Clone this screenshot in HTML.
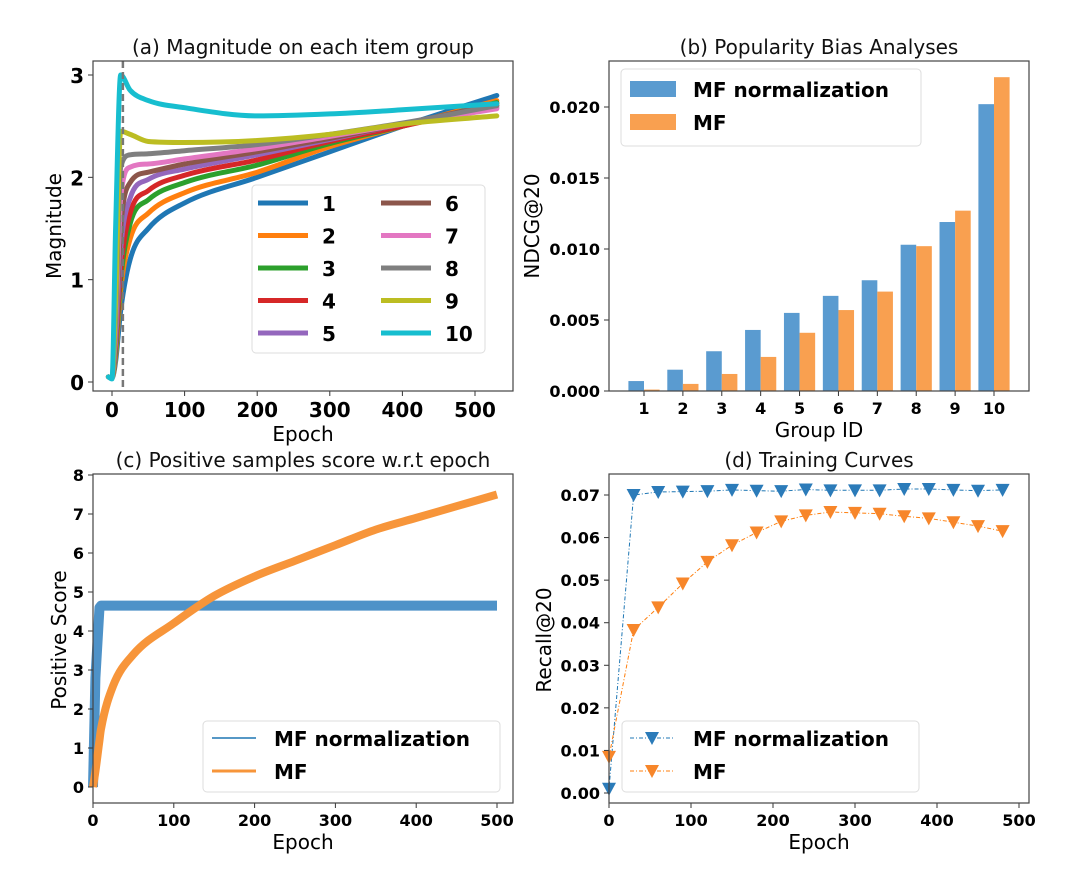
<!DOCTYPE html>
<html><head><meta charset="utf-8">
<style>
html,body{margin:0;padding:0;background:#fff;}
svg{display:block;font-family:"DejaVu Sans","Liberation Sans",sans-serif;}
</style></head>
<body>
<svg id="fig" width="1080" height="887" viewBox="0 0 1080 887" xmlns="http://www.w3.org/2000/svg"></svg>
<script>
// ---------- Panel (a) data ----------
const magEpochs = [-5, 0, 5, 12, 25, 50, 100, 200, 300, 400, 530];
const magGroups = ['1','2','3','4','5','6','7','8','9','10'];
const magSeries = [
  [0.05,0.04,0.2,0.7,1.2,1.5,1.75,2.0,2.25,2.5,2.8],
  [0.05,0.04,0.25,0.9,1.4,1.65,1.85,2.05,2.3,2.5,2.75],
  [0.05,0.04,0.3,1.0,1.55,1.78,1.95,2.12,2.33,2.5,2.73],
  [0.05,0.04,0.35,1.1,1.65,1.87,2.02,2.17,2.35,2.5,2.7],
  [0.05,0.04,0.4,1.3,1.8,1.98,2.08,2.22,2.37,2.52,2.68],
  [0.05,0.04,0.45,1.5,1.95,2.05,2.13,2.25,2.38,2.52,2.72],
  [0.05,0.04,0.5,1.8,2.1,2.13,2.18,2.28,2.4,2.52,2.67],
  [0.05,0.04,0.6,2.1,2.22,2.23,2.26,2.32,2.42,2.53,2.7],
  [0.05,0.04,0.8,2.45,2.42,2.35,2.34,2.36,2.42,2.52,2.6],
  [0.05,0.03,1.5,3.0,2.85,2.75,2.68,2.6,2.62,2.66,2.72]
];
const magColors = ['#1f77b4','#ff7f0e','#2ca02c','#d62728','#9467bd','#8c564b','#e377c2','#7f7f7f','#bcbd22','#17becf'];
const magXTicks = [0,100,200,300,400,500];
const magYTicks = [0,1,2,3];
// ---------- Panel (b) data ----------
const barGroups = ['1','2','3','4','5','6','7','8','9','10'];
const barNorm = [0.0007,0.0015,0.0028,0.0043,0.0055,0.0067,0.0078,0.0103,0.0119,0.0202];
const barMF = [0.0001,0.0005,0.0012,0.0024,0.0041,0.0057,0.0070,0.0102,0.0127,0.0221];
const barYTicks = ['0.000','0.005','0.010','0.015','0.020'];
// ---------- Panel (c) data ----------
const scoreEpochs = [0, 3, 8, 10, 25, 50, 100, 150, 200, 250, 300, 350, 400, 450, 500];
const scoreNorm = [0, 2.8, 4.6, 4.65, 4.65, 4.65, 4.65, 4.65, 4.65, 4.65, 4.65, 4.65, 4.65, 4.65, 4.65];
const scoreMF = [0, 0.4, 1.2, 1.5, 2.6, 3.4, 4.2, 4.9, 5.4, 5.8, 6.2, 6.6, 6.9, 7.2, 7.5];
const scoreXTicks = [0,100,200,300,400,500];
const scoreYTicks = [0,1,2,3,4,5,6,7,8];
// ---------- Panel (d) data ----------
const recEpochs = [0,30,60,90,120,150,180,210,240,270,300,330,360,390,420,450,480];
const recNorm = [0.001,0.070,0.0707,0.0708,0.0709,0.0712,0.0710,0.0709,0.0713,0.0711,0.0711,0.0711,0.0714,0.0714,0.0712,0.0710,0.0712];
const recMF = [0.0085,0.0383,0.0436,0.0492,0.0543,0.0582,0.0612,0.0638,0.0652,0.0660,0.0658,0.0656,0.0650,0.0645,0.0636,0.0627,0.0615];
const recYTicks = ['0.00','0.01','0.02','0.03','0.04','0.05','0.06','0.07'];
const recXTicks = [0,100,200,300,400,500];

const NS='http://www.w3.org/2000/svg';
const fig=document.getElementById('fig');
function mk(tag, attrs, parent){
  const e=document.createElementNS(NS,tag);
  for(const k in attrs) e.setAttribute(k,attrs[k]);
  (parent||fig).appendChild(e);
  return e;
}
function txt(s, attrs, parent){const t=mk('text',attrs,parent);t.textContent=s;return t;}
function lin(d0,d1,r0,r1){return v=>r0+(v-d0)*(r1-r0)/(d1-d0);}
function pathOf(xs,ys,fx,fy){return xs.map((x,i)=>(i?'L':'M')+fx(x).toFixed(1)+' '+fy(ys[i]).toFixed(1)).join(' ');}
// monotone cubic (Fritsch-Carlson), no overshoot
function smoothOf(xs,ys,fx,fy){
  const X=xs.map(fx), Y=ys.map(fy), n=X.length;
  const d=[], m=[];
  for(let i=0;i<n-1;i++) d.push((Y[i+1]-Y[i])/(X[i+1]-X[i]));
  m[0]=d[0]; m[n-1]=d[n-2];
  for(let i=1;i<n-1;i++) m[i]=(d[i-1]*d[i]<=0)?0:(d[i-1]+d[i])/2;
  for(let i=0;i<n-1;i++){
    if(d[i]===0){m[i]=0;m[i+1]=0;continue;}
    const a=m[i]/d[i], b=m[i+1]/d[i], s=a*a+b*b;
    if(s>9){const t=3/Math.sqrt(s);m[i]=t*a*d[i];m[i+1]=t*b*d[i];}
  }
  let p='M'+X[0].toFixed(1)+' '+Y[0].toFixed(1);
  for(let i=0;i<n-1;i++){
    const h=(X[i+1]-X[i])/3;
    p+=` C${(X[i]+h).toFixed(1)} ${(Y[i]+m[i]*h).toFixed(1)} ${(X[i+1]-h).toFixed(1)} ${(Y[i+1]-m[i+1]*h).toFixed(1)} ${X[i+1].toFixed(1)} ${Y[i+1].toFixed(1)}`;
  }
  return p;
}
function frame(x0,y0,x1,y1,name){
  const r=mk('rect',{x:x0,y:y0,width:x1-x0,height:y1-y0,fill:'none',stroke:'#444','stroke-width':1.2});
  
  
}
function tri(cx,cy,col,g){
  return mk('path',{d:`M${cx-7} ${cy-6} L${cx+7} ${cy-6} L${cx} ${cy+7} Z`,fill:col},g);
}

// ================= Panel (a) =================
{
  const X0=93,Y0=61,X1=513,Y1=391;
  const fx=lin(0,500,112,475), fy=lin(0,3,382,75);
  const g=mk('g',{});
  
  
  const t=txt('(a) Magnitude on each item group',{x:303,y:54,'font-size':20,'text-anchor':'middle',fill:'#111'},g);
  
  
  magSeries.forEach((s,i)=>{
    const p=mk('path',{d:smoothOf(magEpochs,s,fx,fy),fill:'none',stroke:magColors[i],'stroke-width':5,'stroke-linejoin':'round','stroke-linecap':'round'},g);
    
    
  });
  const dl=mk('line',{x1:fx(15),x2:fx(15),y1:Y0,y2:Y1,stroke:'#777','stroke-width':2.5,'stroke-dasharray':'7,4'},g);
  
  
  magXTicks.forEach(v=>{
    mk('line',{x1:fx(v),x2:fx(v),y1:Y1,y2:Y1+5,stroke:'#333'},g);
    const l=txt(v,{x:fx(v),y:Y1+26,'font-size':20,'font-weight':'bold','text-anchor':'middle'},g);
    
    
  });
  magYTicks.forEach(v=>{
    mk('line',{x1:X0-5,x2:X0,y1:fy(v),y2:fy(v),stroke:'#333'},g);
    const l=txt(v,{x:X0-9,y:fy(v)+8,'font-size':20,'font-weight':'bold','text-anchor':'end'},g);
    
    
  });
  const xl=txt('Epoch',{x:303,y:441,'font-size':20,'text-anchor':'middle'},g);
  
  
  const yl=txt('Magnitude',{x:0,y:0,'font-size':20,'text-anchor':'middle',transform:'translate(61,226) rotate(-90)'},g);
  
  
  frame(X0,Y0,X1,Y1,'panel-a-axes');
  const lg=mk('g',{},g);
  
  
  mk('rect',{x:252,y:185,width:233,height:168,rx:4,fill:'#fff','fill-opacity':0.85,stroke:'#ddd'},lg);
  magGroups.forEach((n,i)=>{
    const col=i<5?0:1, row=i%5;
    const lx=col?381:258, ly=203+row*32.5;
    mk('line',{x1:lx,x2:lx+50,y1:ly,y2:ly,stroke:magColors[i],'stroke-width':5},lg);
    const e=txt(n,{x:lx+64,y:ly+8,'font-size':20,'font-weight':'bold'},lg);
    
    
  });
}

// ================= Panel (b) =================
{
  const X0=609,Y0=61,X1=1029,Y1=391;
  const fx=lin(1,10,644,994), fy=lin(0,0.02,391,107);
  const g=mk('g',{});
  
  
  const t=txt('(b) Popularity Bias Analyses',{x:819,y:54,'font-size':20,'text-anchor':'middle',fill:'#111'},g);
  
  
  const bw=15.6;
  barGroups.forEach((gname,i)=>{
    const cx=fx(i+1);
    const b1=mk('rect',{x:cx-bw,y:fy(barNorm[i]),width:bw,height:Y1-fy(barNorm[i]),fill:'#5a9bd0'},g);
    
    
    const b2=mk('rect',{x:cx,y:fy(barMF[i]),width:bw,height:Y1-fy(barMF[i]),fill:'#f9a050'},g);
    
    
    mk('line',{x1:cx,x2:cx,y1:Y1,y2:Y1+5,stroke:'#333'},g);
    const l=txt(gname,{x:cx,y:Y1+23,'font-size':16,'font-weight':'bold','text-anchor':'middle'},g);
    
    
  });
  barYTicks.forEach(s=>{
    const v=parseFloat(s);
    mk('line',{x1:X0-5,x2:X0,y1:fy(v),y2:fy(v),stroke:'#333'},g);
    const l=txt(s,{x:X0-9,y:fy(v)+6,'font-size':16,'font-weight':'bold','text-anchor':'end'},g);
    
    
  });
  const xl=txt('Group ID',{x:819,y:437,'font-size':20,'text-anchor':'middle'},g);
  
  
  const yl=txt('NDCG@20',{x:0,y:0,'font-size':20,'text-anchor':'middle',transform:'translate(539,226) rotate(-90)'},g);
  
  
  frame(X0,Y0,X1,Y1,'panel-b-axes');
  const lg=mk('g',{},g);
  
  
  mk('rect',{x:621,y:69,width:300,height:77,rx:4,fill:'#fff','fill-opacity':0.85,stroke:'#ddd'},lg);
  mk('rect',{x:630,y:81,width:46,height:16,fill:'#5a9bd0'},lg);
  mk('rect',{x:630,y:114,width:46,height:16,fill:'#f9a050'},lg);
  const e1=txt('MF normalization',{x:693,y:97,'font-size':20,'font-weight':'bold'},lg);
  
  
  const e2=txt('MF',{x:693,y:130,'font-size':20,'font-weight':'bold'},lg);
  
  
}

// ================= Panel (c) =================
{
  const X0=93,Y0=474,X1=513,Y1=803;
  const fx=lin(0,500,93,497), fy=lin(0,8,787,475);
  const g=mk('g',{});
  
  
  const t=txt('(c) Positive samples score w.r.t epoch',{x:303,y:467,'font-size':20,'text-anchor':'middle',fill:'#111'},g);
  
  
  const pb=mk('path',{d:pathOf(scoreEpochs,scoreNorm,fx,fy),fill:'none',stroke:'#3b86c2','stroke-width':10,'stroke-linejoin':'round','stroke-opacity':0.9},g);
  
  
  const po=mk('path',{d:smoothOf(scoreEpochs,scoreMF,fx,fy),fill:'none',stroke:'#f7953a','stroke-width':8,'stroke-linejoin':'round'},g);
  
  
  scoreXTicks.forEach(v=>{
    mk('line',{x1:fx(v),x2:fx(v),y1:Y1,y2:Y1+5,stroke:'#333'},g);
    const l=txt(v,{x:fx(v),y:Y1+23,'font-size':16,'font-weight':'bold','text-anchor':'middle'},g);
    
    
  });
  scoreYTicks.forEach(v=>{
    mk('line',{x1:X0-5,x2:X0,y1:fy(v),y2:fy(v),stroke:'#333'},g);
    const l=txt(v,{x:X0-9,y:fy(v)+6,'font-size':16,'font-weight':'bold','text-anchor':'end'},g);
    
    
  });
  const xl=txt('Epoch',{x:303,y:849,'font-size':20,'text-anchor':'middle'},g);
  
  
  const yl=txt('Positive Score',{x:0,y:0,'font-size':20,'text-anchor':'middle',transform:'translate(66,640) rotate(-90)'},g);
  
  
  frame(X0,Y0,X1,Y1,'panel-c-axes');
  const lg=mk('g',{},g);
  
  
  mk('rect',{x:203,y:721,width:297,height:71,rx:4,fill:'#fff','fill-opacity':0.85,stroke:'#ddd'},lg);
  mk('line',{x1:212,x2:256,y1:738,y2:738,stroke:'#1f77b4','stroke-width':1.5},lg);
  mk('line',{x1:212,x2:256,y1:771,y2:771,stroke:'#f7953a','stroke-width':3},lg);
  const e1=txt('MF normalization',{x:274,y:746,'font-size':20,'font-weight':'bold'},lg);
  
  
  const e2=txt('MF',{x:274,y:779,'font-size':20,'font-weight':'bold'},lg);
  
  
}

// ================= Panel (d) =================
{
  const X0=609,Y0=474,X1=1029,Y1=803;
  const fx=lin(0,500,609,1019), fy=lin(0,0.07,793,495);
  const g=mk('g',{});
  
  
  const t=txt('(d) Training Curves',{x:819,y:467,'font-size':20,'text-anchor':'middle',fill:'#111'},g);
  
  
  const lb=mk('path',{d:pathOf(recEpochs,recNorm,fx,fy),fill:'none',stroke:'#1f77b4','stroke-width':1,'stroke-dasharray':'4,2,1,2'},g);
  
  
  const lo=mk('path',{d:pathOf(recEpochs,recMF,fx,fy),fill:'none',stroke:'#ff7f0e','stroke-width':1,'stroke-dasharray':'4,2,1,2'},g);
  
  
  recEpochs.forEach((e,i)=>{
    const m1=tri(fx(e),fy(recNorm[i]),'#2b7bb9',g);
    
    
    const m2=tri(fx(e),fy(recMF[i]),'#f7862a',g);
    
    
  });
  recXTicks.forEach(v=>{
    mk('line',{x1:fx(v),x2:fx(v),y1:Y1,y2:Y1+5,stroke:'#333'},g);
    const l=txt(v,{x:fx(v),y:Y1+23,'font-size':16,'font-weight':'bold','text-anchor':'middle'},g);
    
    
  });
  recYTicks.forEach(s=>{
    const v=parseFloat(s);
    mk('line',{x1:X0-5,x2:X0,y1:fy(v),y2:fy(v),stroke:'#333'},g);
    const l=txt(s,{x:X0-9,y:fy(v)+6,'font-size':16,'font-weight':'bold','text-anchor':'end'},g);
    
    
  });
  const xl=txt('Epoch',{x:819,y:849,'font-size':20,'text-anchor':'middle'},g);
  
  
  const yl=txt('Recall@20',{x:0,y:0,'font-size':20,'text-anchor':'middle',transform:'translate(551,640) rotate(-90)'},g);
  
  
  frame(X0,Y0,X1,Y1,'panel-d-axes');
  const lg=mk('g',{},g);
  
  
  mk('rect',{x:622,y:721,width:297,height:71,rx:4,fill:'#fff','fill-opacity':0.85,stroke:'#ddd'},lg);
  mk('line',{x1:630,x2:675,y1:738,y2:738,stroke:'#1f77b4','stroke-dasharray':'4,2,1,2'},lg);
  tri(652,738,'#2b7bb9',lg);
  mk('line',{x1:630,x2:675,y1:771,y2:771,stroke:'#ff7f0e','stroke-dasharray':'4,2,1,2'},lg);
  tri(652,771,'#f7862a',lg);
  const e1=txt('MF normalization',{x:693,y:746,'font-size':20,'font-weight':'bold'},lg);
  
  
  const e2=txt('MF',{x:693,y:779,'font-size':20,'font-weight':'bold'},lg);
  
  
}
</script>
</body></html>
